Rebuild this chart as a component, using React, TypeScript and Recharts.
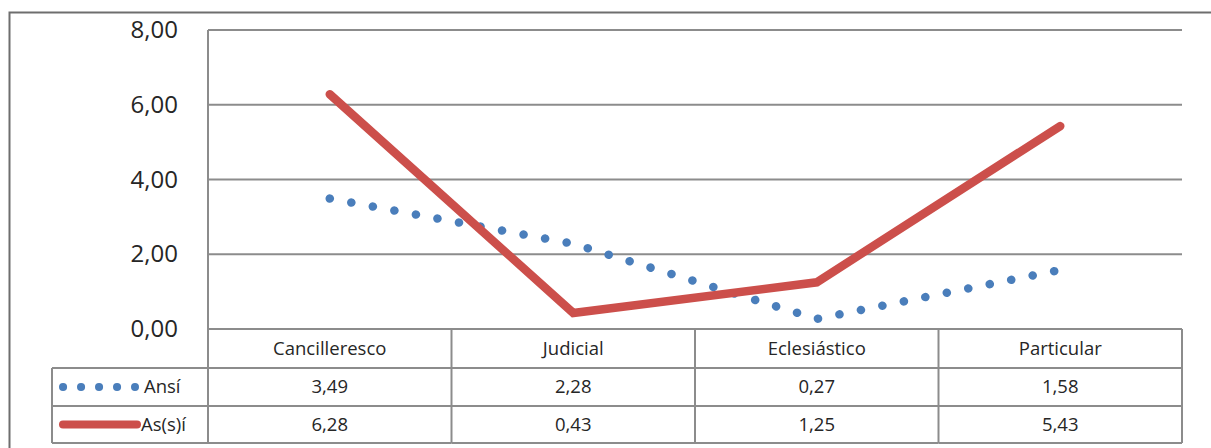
import React from "react";
import { CartesianGrid, Line, LineChart, XAxis, YAxis } from "recharts";

const categories = ["Cancilleresco", "Judicial", "Eclesiástico", "Particular"];
const ansi = [3.49, 2.28, 0.27, 1.58];
const asi = [6.28, 0.43, 1.25, 5.43];
const yTicks = [0, 2, 4, 6, 8];
const seriesNames = ["Ansí", "As(s)í"];

const data = categories.map((name, i) => ({ name, ansi: ansi[i], asi: asi[i] }));

const W = 1211;
const H = 448;
const PLOT_LEFT = 208;
const PLOT_RIGHT = 1182;
const PLOT_TOP = 30;
const PLOT_BOTTOM = 329;
const ROW = [329, 368, 406, 443];
const BAND = (PLOT_RIGHT - PLOT_LEFT) / categories.length;
const FONT = "'Open Sans', 'Noto Sans', sans-serif";
const GRID = "#8c8c8c";
const TEXT = "#262626";
const BLUE = "#4a7ebb";
const RED = "#cc4f4b";
const FS = 18.5;

const fmt = (v: number) => v.toFixed(2).replace(".", ",");

const YTick = ({ y, payload }: any) => (
  <text x={178} y={y} dy={8} textAnchor="end" fontSize={24} fill={TEXT} fontFamily={FONT}>
    {fmt(payload.value)}
  </text>
);

const cellY = (r: number) => (ROW[r] + ROW[r + 1]) / 2 + 6;

const TableTick = ({ x, payload, index }: any) => {
  const left = x - BAND / 2;
  const right = x + BAND / 2;
  return (
    <g>
      <text x={x} y={cellY(0)} textAnchor="middle" fontSize={FS} fill={TEXT} fontFamily={FONT}>
        {payload.value}
      </text>
      <text x={x} y={cellY(1)} textAnchor="middle" fontSize={FS} fill={TEXT} fontFamily={FONT}>
        {fmt(ansi[index])}
      </text>
      <text x={x} y={cellY(2)} textAnchor="middle" fontSize={FS} fill={TEXT} fontFamily={FONT}>
        {fmt(asi[index])}
      </text>
      <line x1={right} x2={right} y1={ROW[0]} y2={ROW[3]} stroke={GRID} strokeWidth={2} />
      <line x1={left} x2={right} y1={ROW[1]} y2={ROW[1]} stroke={GRID} strokeWidth={2} />
      <line x1={left} x2={right} y1={ROW[2]} y2={ROW[2]} stroke={GRID} strokeWidth={2} />
      <line x1={left} x2={right} y1={ROW[3]} y2={ROW[3]} stroke={GRID} strokeWidth={2} />
      {index === 0 && (
        <g>
          <line x1={52} x2={left} y1={ROW[1]} y2={ROW[1]} stroke={GRID} strokeWidth={2} />
          <line x1={52} x2={left} y1={ROW[2]} y2={ROW[2]} stroke={GRID} strokeWidth={2} />
          <line x1={52} x2={left} y1={ROW[3]} y2={ROW[3]} stroke={GRID} strokeWidth={2} />
          <line x1={52} x2={52} y1={ROW[1]} y2={ROW[3]} stroke={GRID} strokeWidth={2} />
          <line x1={left} x2={left} y1={ROW[0]} y2={ROW[3]} stroke={GRID} strokeWidth={2} />
          <line x1={63} x2={135} y1={(ROW[1] + ROW[2]) / 2} y2={(ROW[1] + ROW[2]) / 2}
            stroke={BLUE} strokeWidth={8} strokeLinecap="round" strokeDasharray="0.1 17.9" />
          <text x={144} y={cellY(1)} fontSize={FS} fill={TEXT} fontFamily={FONT}>
            {seriesNames[0]}
          </text>
          <line x1={63} x2={137} y1={(ROW[2] + ROW[3]) / 2} y2={(ROW[2] + ROW[3]) / 2}
            stroke={RED} strokeWidth={8} strokeLinecap="round" />
          <text x={141} y={cellY(2)} fontSize={FS} fill={TEXT} fontFamily={FONT}>
            {seriesNames[1]}
          </text>
        </g>
      )}
    </g>
  );
};

export default function App() {
  return (
    <div style={{ position: "absolute", left: 0, top: 0, width: W, height: H, background: "#fff" }}>
      <svg width={W} height={H} style={{ position: "absolute", left: 0, top: 0 }}>
        <rect x={9.5} y={12.5} width={W + 20} height={H + 20} fill="none" stroke="#6e6e6e" strokeWidth={2} />
      </svg>
      <div style={{ position: "absolute", left: 0, top: 0 }}>
        <LineChart
          width={W}
          height={H}
          data={data}
          margin={{ top: PLOT_TOP, right: W - PLOT_RIGHT, bottom: 0, left: PLOT_LEFT - 80 }}
        >
          <CartesianGrid vertical={false} stroke={GRID} strokeWidth={2} />
          <XAxis
            dataKey="name"
            scale="band"
            height={H - PLOT_BOTTOM}
            tickLine={false}
            tickSize={0}
            tickMargin={0}
            axisLine={{ stroke: GRID, strokeWidth: 2 }}
            tick={<TableTick />}
            interval={0}
          />
          <YAxis
            width={80}
            domain={[0, 8]}
            ticks={yTicks}
            tickLine={false}
            axisLine={{ stroke: GRID, strokeWidth: 2 }}
            tick={<YTick />}
          />
          <Line
            type="linear"
            dataKey="ansi"
            stroke={BLUE}
            strokeWidth={8.5}
            strokeLinecap="round"
            strokeDasharray="0.1 21.8"
            dot={false}
            isAnimationActive={false}
          />
          <Line
            type="linear"
            dataKey="asi"
            stroke={RED}
            strokeWidth={8.5}
            strokeLinecap="round"
            dot={false}
            isAnimationActive={false}
          />
        </LineChart>
      </div>
    </div>
  );
}
